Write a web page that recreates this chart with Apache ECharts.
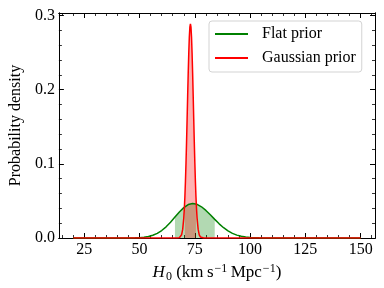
<!DOCTYPE html>
<html>
<head>
<meta charset="utf-8">
<script src="https://cdn.jsdelivr.net/npm/echarts@6/dist/echarts.min.js"></script>
<style>html,body{margin:0;padding:0;background:#fff}#c{width:384px;height:288px}</style>
</head>
<body>
<div id="c"></div>
<script>
// Flat prior posterior (H0, density)
const flatX = [20, 46, 48, 50, 52, 54, 56, 58, 60, 62, 64, 66, 68, 70, 72, 74, 76, 78, 80, 82, 84, 86, 88, 90, 92, 94, 96, 98, 100, 102, 104, 106, 108, 150];
const flatY = [0, 0.0001, 0.0002, 0.0005, 0.0011, 0.0020, 0.0037, 0.0063, 0.0101, 0.0151, 0.0213, 0.0282, 0.0351, 0.0410, 0.0451, 0.0465, 0.0454, 0.0421, 0.0372, 0.0313, 0.0251, 0.0191, 0.0139, 0.0096, 0.0063, 0.0039, 0.0023, 0.0013, 0.0007, 0.0004, 0.0002, 0.0001, 0, 0];
// Gaussian prior posterior
const gaussX = [20, 66, 67, 68, 68.5, 69, 69.5, 70, 70.25, 70.5, 70.75, 71, 71.25, 71.5, 71.75, 72, 72.25, 72.5, 72.75, 73, 73.25, 73.5, 73.75, 74, 74.25, 74.5, 74.75, 75, 75.25, 75.5, 75.75, 76, 76.5, 77, 77.5, 78, 79, 80, 150];
const gaussY = [0, 0, 0.0001, 0.0004, 0.0014, 0.0043, 0.0116, 0.0272, 0.0397, 0.0560, 0.0765, 0.1011, 0.1293, 0.1601, 0.1918, 0.2223, 0.2493, 0.2707, 0.2843, 0.2890, 0.2843, 0.2707, 0.2493, 0.2223, 0.1918, 0.1601, 0.1293, 0.1011, 0.0765, 0.0560, 0.0397, 0.0272, 0.0116, 0.0043, 0.0014, 0.0004, 0.0001, 0, 0];
// Shaded credible intervals
const flatCI = [66, 84];
const gaussCI = [70.5, 75.5];
// Ticks
const xTickLabels = [25, 50, 75, 100, 125, 150];
const xMinorTicks = [15, 20, 30, 35, 40, 45, 55, 60, 65, 70, 80, 85, 90, 95, 105, 110, 115, 120, 130, 135, 140, 145, 155];
const yTickLabels = [0, 0.1, 0.2, 0.3];
const yMinorTicks = [0.02, 0.04, 0.06, 0.08, 0.12, 0.14, 0.16, 0.18, 0.22, 0.24, 0.26, 0.28];
const seriesNames = ['Flat prior', 'Gaussian prior'];

const FONT = 'Liberation Serif';
const zip = (xs, ys) => xs.map((x, i) => [x, ys[i]]);
const within = (xs, ys, r) => zip(xs, ys).filter(p => p[0] >= r[0] && p[0] <= r[1]);

const X_MIN = 13.5, X_MAX = 156.5, Y_MAX = 0.3035;
const axLine = { show: true, onZero: false, lineStyle: { color: '#000', width: 1 } };

function xAx(pos, ticks, len, labels) {
  return {
    type: 'value', min: X_MIN, max: X_MAX, position: pos, gridIndex: 0,
    axisLine: axLine,
    splitLine: { show: false },
    axisTick: { show: true, inside: true, length: len, customValues: ticks, lineStyle: { color: '#000', width: len > 4 ? 1 : 0.8 } },
    axisLabel: labels ? { show: true, customValues: ticks, fontFamily: FONT, fontSize: 16, color: '#000', margin: 4 } : { show: false }
  };
}
function yAx(pos, ticks, len, labels) {
  return {
    type: 'value', min: 0, max: Y_MAX, position: pos, gridIndex: 0,
    axisLine: axLine,
    splitLine: { show: false },
    axisTick: { show: true, inside: true, length: len, customValues: ticks, lineStyle: { color: '#000', width: len > 4 ? 1 : 0.8 } },
    axisLabel: labels ? { show: true, customValues: ticks, fontFamily: FONT, fontSize: 16, color: '#000', margin: 4, formatter: v => Number(v).toFixed(1) } : { show: false }
  };
}

const xMain = xAx('bottom', xTickLabels, 5, true);
xMain.name = '{i|H}{sub|0}{n| (km\u2009s}{sup|\u22121}{n|\u2009Mpc}{sup|\u22121}{n|)}';
xMain.nameLocation = 'middle';
xMain.nameGap = 21;
xMain.nameTextStyle = {
  fontFamily: FONT, fontSize: 17, color: '#000',
  rich: {
    i: { fontFamily: FONT, fontSize: 17, fontStyle: 'italic', color: '#000', lineHeight: 20 },
    n: { fontFamily: FONT, fontSize: 17, color: '#000', lineHeight: 20 },
    sub: { fontFamily: FONT, fontSize: 12, color: '#000', lineHeight: 12, padding: [8, 0, 0, 1] },
    sup: { fontFamily: FONT, fontSize: 12, color: '#000', lineHeight: 12, padding: [0, 0, 8, 1] }
  }
};
const yMain = yAx('left', yTickLabels, 5, true);
yMain.name = 'Probability density';
yMain.nameLocation = 'middle';
yMain.nameGap = 24;
yMain.nameTextStyle = { fontFamily: FONT, fontSize: 16, color: '#000' };

const chart = echarts.init(document.getElementById('c'), null, { renderer: 'canvas' });
chart.setOption({
  animation: false,
  backgroundColor: '#fff',
  grid: { left: 52, right: 9, top: 13, bottom: 50, containLabel: false },
  xAxis: [xMain, xAx('bottom', xMinorTicks, 3, false), xAx('top', xTickLabels, 5, false), xAx('top', xMinorTicks, 3, false)],
  yAxis: [yMain, yAx('left', yMinorTicks, 3, false), yAx('right', yTickLabels, 5, false), yAx('right', yMinorTicks, 3, false)],
  legend: {
    data: seriesNames, orient: 'vertical', left: 209, top: 21,
    icon: 'rect', itemWidth: 33, itemHeight: 2, itemGap: 8,
    padding: [5, 6, 6, 6], borderColor: '#d3d3d3', borderWidth: 1, borderRadius: 3,
    backgroundColor: 'rgba(255,255,255,0.8)',
    textStyle: { fontFamily: FONT, fontSize: 16, color: '#000', padding: [0, 0, 0, 9] }
  },
  series: [
    { name: 'flat-ci', type: 'line', xAxisIndex: 0, yAxisIndex: 0, data: within(flatX, flatY, flatCI), showSymbol: false, silent: true,
      lineStyle: { width: 0 }, areaStyle: { color: 'rgba(0,128,0,0.3)', opacity: 1 }, z: 1 },
    { name: 'gauss-ci', type: 'line', xAxisIndex: 0, yAxisIndex: 0, data: within(gaussX, gaussY, gaussCI), showSymbol: false, silent: true,
      lineStyle: { width: 0 }, areaStyle: { color: 'rgba(255,0,0,0.3)', opacity: 1 }, z: 2 },
    { name: seriesNames[0], type: 'line', xAxisIndex: 0, yAxisIndex: 0, data: zip(flatX, flatY), showSymbol: false,
      itemStyle: { color: '#008000' }, lineStyle: { color: '#008000', width: 1.5 }, z: 3 },
    { name: seriesNames[1], type: 'line', xAxisIndex: 0, yAxisIndex: 0, data: zip(gaussX, gaussY), showSymbol: false,
      itemStyle: { color: '#ff0000' }, lineStyle: { color: '#ff0000', width: 1.5 }, z: 4 }
  ]
});
</script>
</body>
</html>
